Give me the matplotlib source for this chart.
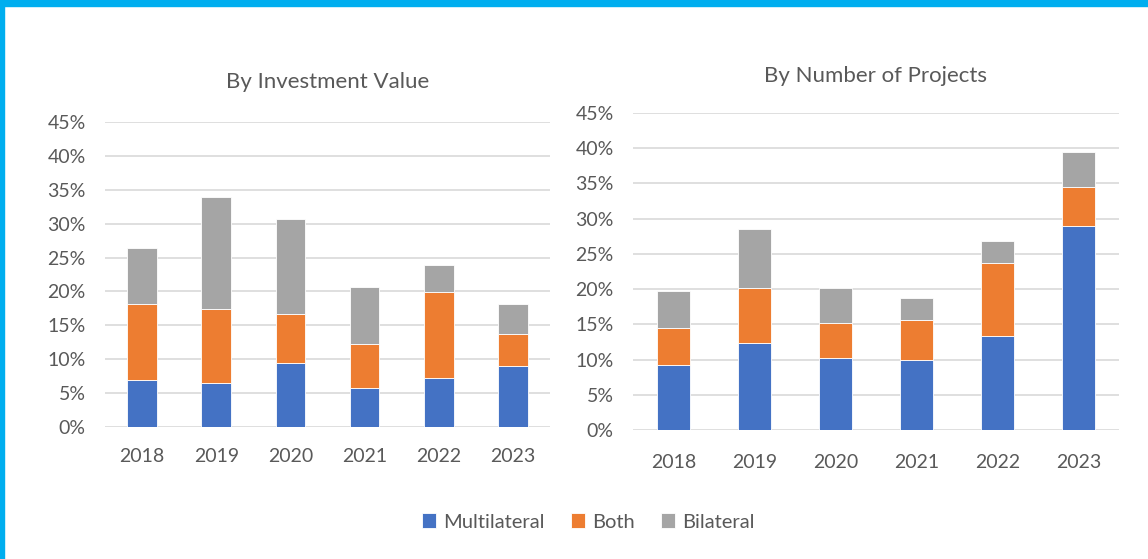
"""Share of projects by partnership type: investment value vs number of projects."""
import matplotlib
matplotlib.use('Agg')
import matplotlib.pyplot as plt
from matplotlib.patches import Rectangle
from matplotlib.ticker import FuncFormatter, MultipleLocator
import numpy as np

plt.rcParams.update({
    'font.family': ['Lato', 'DejaVu Sans'],
    'text.color': '#595959',
    'xtick.color': '#595959',
    'ytick.color': '#595959',
})

years = ['2018', '2019', '2020', '2021', '2022', '2023']

# By investment value (share, %)
inv_multilateral = [7.0, 6.5, 9.4, 5.8, 7.3, 9.0]
inv_both         = [11.1, 10.9, 7.3, 6.4, 12.6, 4.7]
inv_bilateral    = [8.3, 16.5, 14.0, 8.4, 4.0, 4.4]

# By number of projects (share, %)
num_multilateral = [9.2, 12.4, 10.2, 9.9, 13.4, 28.9]
num_both         = [5.3, 7.8, 5.0, 5.7, 10.3, 5.6]
num_bilateral    = [5.3, 8.4, 5.0, 3.2, 3.2, 5.0]

C_MULTI = '#4472C4'
C_BOTH  = '#ED7D31'
C_BILAT = '#A5A5A5'
C_GRID  = '#D9D9D9'

fig = plt.figure(figsize=(11.48, 5.59), dpi=100)

# frame band (top and left edges)
fig.patches.append(Rectangle((0, 1 - 6 / 559), 1, 6 / 559, transform=fig.transFigure,
                             color='#00AEEF', zorder=0))
fig.patches.append(Rectangle((0, 0), 3.5 / 1148, 1, transform=fig.transFigure,
                             color='#00AEEF', zorder=0))

ax1 = fig.add_axes([105 / 1148, 132 / 559, 445 / 1148, 305 / 559])
ax2 = fig.add_axes([633 / 1148, 129 / 559, 486 / 1148, 317 / 559])


def draw(ax, multi, both, bilat, title, title_y, xpad):
    x = np.arange(len(years))
    m = np.array(multi) / 100
    b = np.array(both) / 100
    g = np.array(bilat) / 100
    kw = dict(width=0.4, edgecolor='white', linewidth=0.6, zorder=3)
    ax.bar(x, m, color=C_MULTI, label='Multilateral', **kw)
    ax.bar(x, b, bottom=m, color=C_BOTH, label='Both', **kw)
    ax.bar(x, g, bottom=m + b, color=C_BILAT, label='Bilateral', **kw)
    ax.set_xlim(-0.5, len(years) - 0.5)
    ax.set_ylim(0, 0.45)
    ax.yaxis.set_major_locator(MultipleLocator(0.05))
    ax.yaxis.set_major_formatter(FuncFormatter(lambda v, _: f'{v * 100:.0f}%'))
    ax.set_xticks(x)
    ax.set_xticklabels(years)
    ax.tick_params(axis='y', length=0, pad=14, labelsize=14)
    ax.tick_params(axis='x', length=0, pad=xpad, labelsize=14)
    ax.grid(axis='y', color=C_GRID, lw=1.2, zorder=0)
    for s in ax.spines.values():
        s.set_visible(False)
    ax.set_title(title, fontsize=16, color='#595959', y=title_y)


draw(ax1, inv_multilateral, inv_both, inv_bilateral, 'By Investment Value', 1.085, 15)
draw(ax2, num_multilateral, num_both, num_bilateral, 'By Number of Projects', 1.07, 17)

handles, labels = ax1.get_legend_handles_labels()
fig.legend(handles, labels, loc='center', bbox_to_anchor=(588 / 1148, 1 - 522 / 559),
           ncol=3, frameon=False, fontsize=14.5, handlelength=0.7, handleheight=0.7,
           handletextpad=0.35, columnspacing=1.3)

plt.savefig('out.png', dpi=100)
